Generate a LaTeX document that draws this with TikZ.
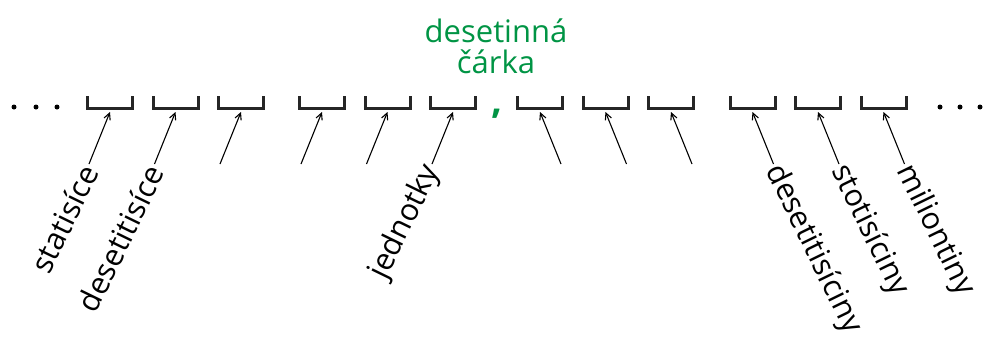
\documentclass[tikz,border=0pt]{standalone}
\usepackage{fontspec}
\setmainfont{Open Sans}
\usetikzlibrary{arrows.meta}
\definecolor{cgreen}{RGB}{0,148,68}
\tikzset{
  slot/.style={minimum width=45pt, minimum height=12pt, inner sep=0pt, outer sep=0pt},
  bracket/.style={line width=3pt, black!85},
  pointer/.style={line width=1.1pt, -{Straight Barb[length=6.5pt,width=6.5pt]}},
  lbl/.style={font=\fontsize{30.5}{32}\selectfont, inner sep=1pt},
  lleft/.style={lbl, rotate=64, anchor=east},
  lright/.style={lbl, rotate=-64, anchor=west},
  dot/.style={circle, fill=black, inner sep=0pt, minimum size=5pt},
}
\begin{document}
\begin{tikzpicture}[x=1pt,y=-1pt]
\useasboundingbox (0,0) rectangle (983,338);
% title
\node[text=cgreen, font=\fontsize{31}{31}\selectfont, align=center, anchor=base] (title) at (496,73) {desetinná\\čárka};
% dots
\node[dot] (d1) at (14,107) {};
\node[dot] (d2) at (36,107) {};
\node[dot] (d3) at (57,107) {};
\node[dot] (d4) at (940,107) {};
\node[dot] (d5) at (960,107) {};
\node[dot] (d6) at (980,107) {};
% comma
\node[text=cgreen, font=\fontsize{38}{38}\selectfont\bfseries, anchor=base, inner sep=0pt] (comma) at (497,113) {,};
% slots
\foreach \i/\x in {1/110,2/175.5,3/241,4/322,5/387.5,6/453,7/540,8/605.5,9/671,10/752.5,11/818,12/883.5}{
  \node[slot] (b\i) at (\x,102) {};
  \draw[bracket] (b\i.north west) -- (b\i.south west) -- (b\i.south east) -- (b\i.north east);
}
% pointers
\foreach \i in {1,...,6}{
  \coordinate (t\i) at ([xshift=-21pt,yshift=-56pt]b\i.south);
  \draw[pointer] (t\i) -- ([yshift=-4pt]b\i.south);
}
\foreach \i in {7,...,12}{
  \coordinate (t\i) at ([xshift=21pt,yshift=-56pt]b\i.south);
  \draw[pointer] (t\i) -- ([yshift=-4pt]b\i.south);
}
% labels
\node[lleft] (l1) at ([xshift=1pt,yshift=-2pt]t1) {statisíce};
\node[lleft] (l2) at ([xshift=1pt,yshift=-2pt]t2) {desetitisíce};
\node[lleft] (l6) at ([xshift=1pt,yshift=-2pt]t6) {jednotky};
\node[lright] (l10) at ([xshift=-1pt,yshift=-2pt]t10) {desetitisíciny};
\node[lright] (l11) at ([xshift=-1pt,yshift=-2pt]t11) {stotisíciny};
\node[lright] (l12) at ([xshift=-1pt,yshift=-2pt]t12) {miliontiny};
\end{tikzpicture}
\end{document}
